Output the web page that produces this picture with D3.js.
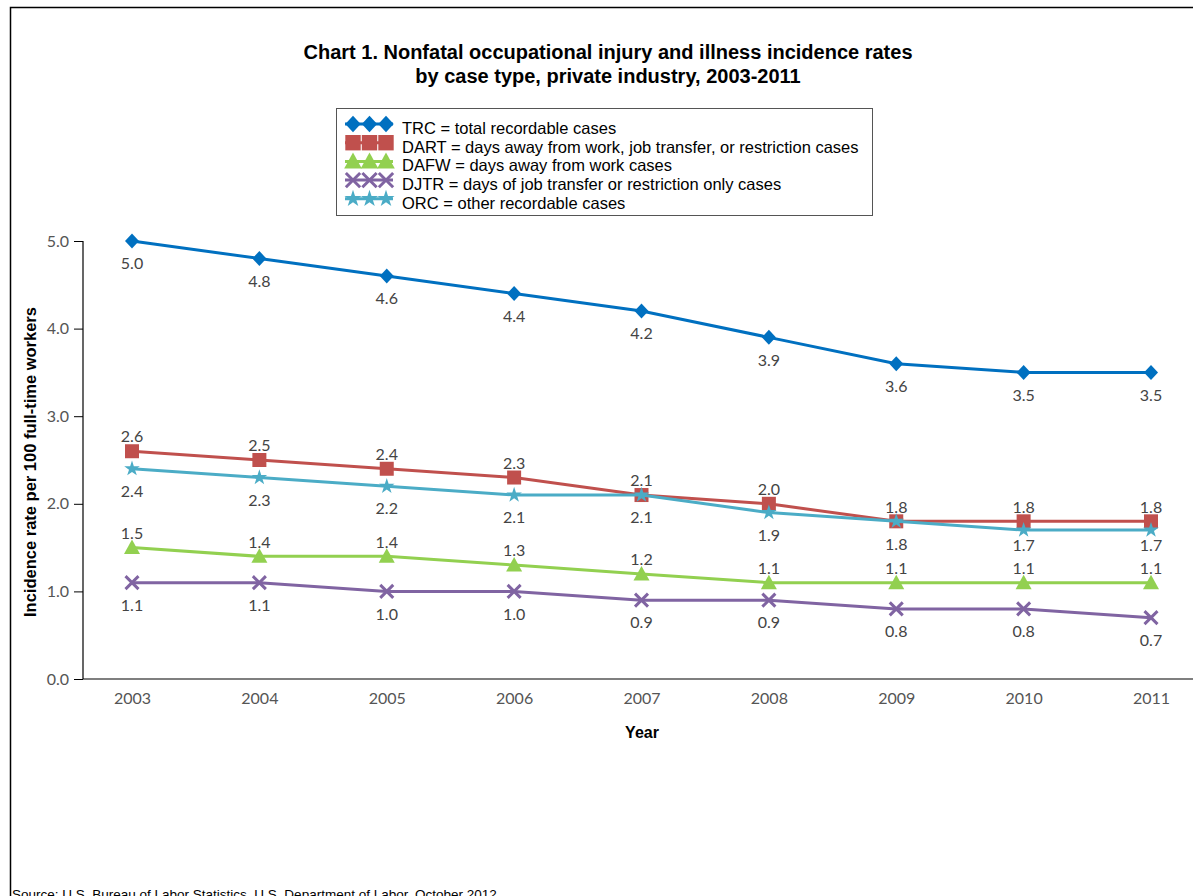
<!DOCTYPE html>
<html><head><meta charset="utf-8">
<script src="https://cdn.jsdelivr.net/npm/d3@7"></script>
<style>
html,body{margin:0;padding:0;background:#fff;overflow:hidden}
svg{display:block}
</style></head>
<body>
<svg id="c" width="1193" height="896"></svg>
<script>
const years = ["2003","2004","2005","2006","2007","2008","2009","2010","2011"];
const trc  = [5.0,4.8,4.6,4.4,4.2,3.9,3.6,3.5,3.5];
const dart = [2.6,2.5,2.4,2.3,2.1,2.0,1.8,1.8,1.8];
const dafw = [1.5,1.4,1.4,1.3,1.2,1.1,1.1,1.1,1.1];
const djtr = [1.1,1.1,1.0,1.0,0.9,0.9,0.8,0.8,0.7];
const orc  = [2.4,2.3,2.2,2.1,2.1,1.9,1.8,1.7,1.7];
const yTicks = [0,1,2,3,4,5];
const seriesNames = ["TRC = total recordable cases",
  "DART = days away from work, job transfer, or restriction cases",
  "DAFW = days away from work cases",
  "DJTR = days of job transfer or restriction only cases",
  "ORC = other recordable cases"];

const series = [
  {name:seriesNames[0], vals:trc,  color:"#0070C0", sym:"diamond",  pos:"below"},
  {name:seriesNames[1], vals:dart, color:"#C0504D", sym:"square",   pos:"above"},
  {name:seriesNames[2], vals:dafw, color:"#92D050", sym:"triangle", pos:"above"},
  {name:seriesNames[3], vals:djtr, color:"#8064A2", sym:"cross",    pos:"below"},
  {name:seriesNames[4], vals:orc,  color:"#4BACC6", sym:"star",     pos:"below"}
];

const svg = d3.select("#c");
const numFont = "Lato, 'Open Sans', sans-serif";
const arial = "Arial, 'Liberation Sans', sans-serif";

// frame
svg.append("path").attr("d","M10.5,896 L10.5,7.5 L1193,7.5").attr("fill","none").attr("stroke","#000").attr("stroke-width",1.5);

// title
const title = svg.append("text").attr("text-anchor","middle").attr("font-family",arial).attr("font-weight","bold").attr("font-size",20).attr("fill","#000");
title.append("tspan").attr("x",608).attr("y",59).text("Chart 1. Nonfatal occupational injury and illness incidence rates");
title.append("tspan").attr("x",608).attr("y",83).text("by case type, private industry, 2003-2011");

const plotL = 83, plotR = 1193, plotT = 241, plotB = 679;
const x = d3.scalePoint().domain(years).range([132, 1151]);
const y = d3.scaleLinear().domain([0,5]).range([plotB, plotT]);

// y axis
const yAxis = svg.append("g").attr("transform",`translate(${plotL},0)`)
  .call(d3.axisLeft(y).tickValues(yTicks).tickFormat(d3.format(".1f")).tickSize(9).tickSizeOuter(0));
yAxis.select(".domain").attr("stroke","#000").attr("stroke-width",1.2).attr("d",`M0,${plotT}V${plotB}`);
yAxis.selectAll(".tick line").attr("stroke","#000");
yAxis.selectAll(".tick text").attr("font-family",numFont).attr("font-size",16).attr("fill","#555").attr("x",-14);

// x axis
const xAxis = svg.append("g").attr("transform",`translate(0,${plotB})`)
  .call(d3.axisBottom(x).tickSize(0).tickSizeOuter(0));
xAxis.select(".domain").attr("stroke","#000").attr("stroke-width",1.2).attr("d",`M${plotL},0H${plotR}`);
xAxis.selectAll(".tick text").attr("font-family",numFont).attr("font-size",16).attr("fill","#555").attr("dy","0").attr("y",25);

// axis titles
svg.append("text").attr("x",642).attr("y",738).attr("text-anchor","middle").attr("font-family",arial).attr("font-weight","bold").attr("font-size",16).text("Year");
svg.append("text").attr("transform","translate(36,462) rotate(-90)").attr("text-anchor","middle").attr("font-family",arial).attr("font-weight","bold").attr("font-size",16.5).text("Incidence rate per 100 full-time workers");

// symbols
function drawSym(g, sym, color, cx, cy, s){
  const k = s||1;
  if(sym==="diamond"){
    const w=7*k, h=7.5*k;
    g.append("path").attr("d",`M${cx},${cy-h}L${cx+w},${cy}L${cx},${cy+h}L${cx-w},${cy}Z`).attr("fill",color);
  } else if(sym==="square"){
    g.append("rect").attr("x",cx-7*k).attr("y",cy-7*k).attr("width",14*k).attr("height",14*k).attr("fill",color);
  } else if(sym==="triangle"){
    g.append("path").attr("d",`M${cx},${cy-8*k}L${cx+8*k},${cy+6.5*k}L${cx-8*k},${cy+6.5*k}Z`).attr("fill",color);
  } else if(sym==="cross"){
    const r=6.5*k;
    g.append("path").attr("d",`M${cx-r},${cy-r}L${cx+r},${cy+r}M${cx-r},${cy+r}L${cx+r},${cy-r}`).attr("stroke",color).attr("stroke-width",3).attr("fill","none");
  } else if(sym==="star"){
    g.append("path").attr("d",d3.symbol(d3.symbolStar, 75*k*k)()).attr("transform",`translate(${cx},${cy})`).attr("fill",color);
  }
}

const line = d3.line().x((d,i)=>x(years[i])).y(d=>y(d));
const drawOrder = [0,1,4,2,3];
drawOrder.forEach(si=>{
  const s = series[si];
  const g = svg.append("g");
  g.append("path").datum(s.vals).attr("d",line).attr("fill","none").attr("stroke",s.color).attr("stroke-width",3);
  s.vals.forEach((v,i)=>drawSym(g, s.sym, s.color, x(years[i]), y(v)));
});

// data labels: centre positions, then nudge a below-label up if it crowds an above-label
const labelCentres = series.map(s => s.vals.map(v => s.pos==="above" ? y(v)-14.5 : y(v)+22.5));
years.forEach((yr,i)=>{
  series.forEach((s,si)=>{
    if(s.pos!=="below") return;
    series.forEach((o,oi)=>{
      if(o.pos!=="above") return;
      const a = labelCentres[oi][i], b = labelCentres[si][i];
      if(a > b && a - b < 23) labelCentres[si][i] = a - 23;
    });
  });
});
series.forEach((s,si)=>{
  svg.append("g").selectAll("text").data(s.vals).join("text")
    .attr("x",(d,i)=>x(years[i]))
    .attr("y",(d,i)=> labelCentres[si][i] + 5.7)
    .attr("text-anchor","middle").attr("font-family",numFont).attr("font-size",16).attr("fill","#444")
    .text(d=>d3.format(".1f")(d));
});

// legend
const lg = svg.append("g");
lg.append("rect").attr("x",336.5).attr("y",108.5).attr("width",536).attr("height",107).attr("fill","#fff").attr("stroke","#555").attr("stroke-width",1);
series.forEach((s,i)=>{
  const cy = 124 + i*18.7;
  lg.append("line").attr("x1",345).attr("x2",393).attr("y1",cy).attr("y2",cy).attr("stroke",s.color).attr("stroke-width",3);
  [353,369.5,386].forEach(cx=>drawSym(lg, s.sym, s.color, cx, cy, 1.1));
  lg.append("text").attr("x",402).attr("y",cy+10).attr("font-family",arial).attr("font-size",16.5).attr("fill","#000").text(s.name);
});

// source
svg.append("text").attr("x",12).attr("y",899).attr("font-family",arial).attr("font-size",13.5).attr("fill","#000")
  .text("Source:  U.S. Bureau of Labor Statistics, U.S. Department of Labor, October 2012");
</script>
</body></html>
